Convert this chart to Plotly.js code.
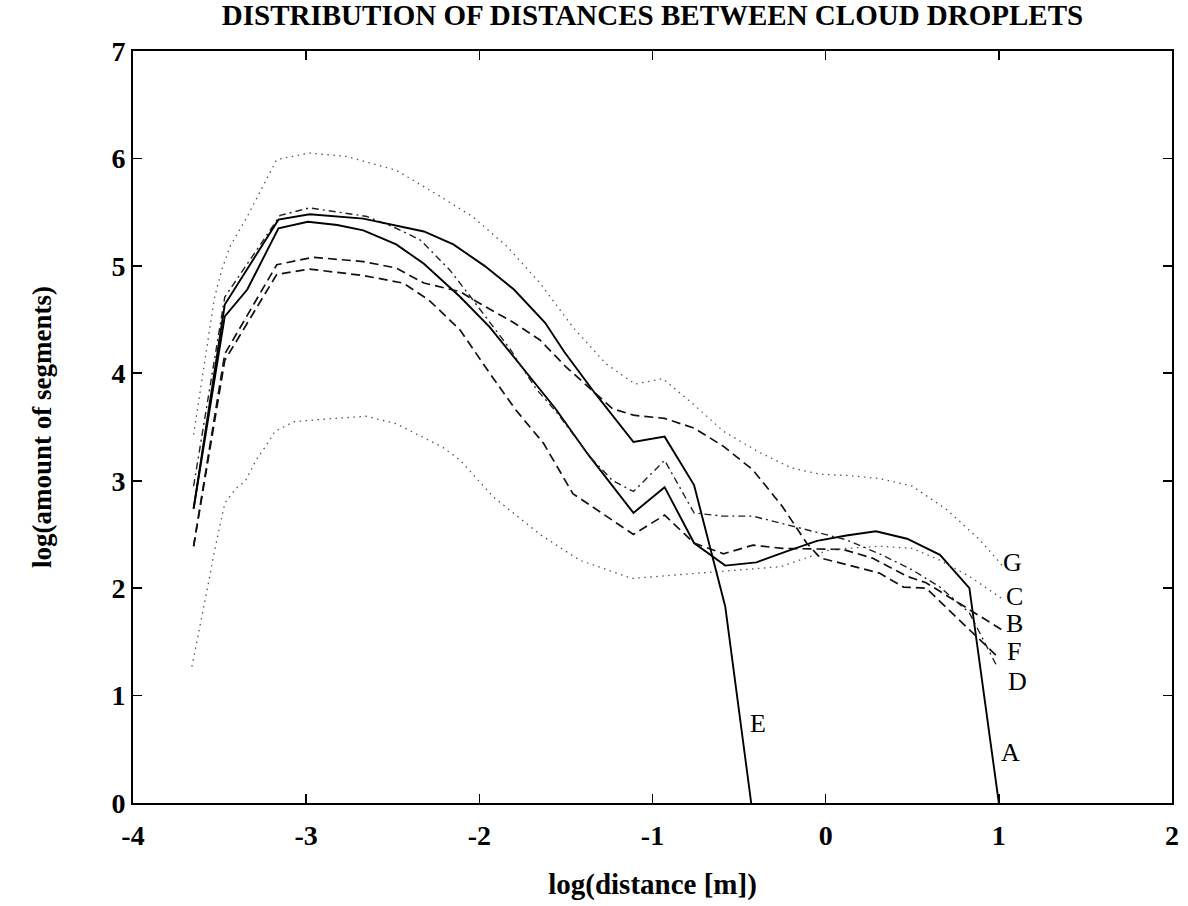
<!DOCTYPE html>
<html>
<head>
<meta charset="utf-8">
<script src="https://cdn.plot.ly/plotly-3.0.1.min.js"></script>
<style>html,body{margin:0;padding:0;background:#fff;}#chart{width:1188px;height:906px;}</style>
</head>
<body>
<div id="chart"></div>
<script>
// Series A (solid)
const xA = [-3.65, -3.47, -3.34, -3.16, -2.99, -2.82, -2.67, -2.48, -2.32, -2.11, -1.94, -1.77, -1.56, -1.37, -1.11, -0.93, -0.76, -0.58, -0.40, -0.23, -0.05, 0.12, 0.29, 0.47, 0.66, 0.83, 0.98, 1.00];
const yA = [2.74, 4.53, 4.78, 5.35, 5.41, 5.38, 5.33, 5.20, 5.02, 4.71, 4.43, 4.09, 3.67, 3.24, 2.70, 2.94, 2.42, 2.21, 2.24, 2.34, 2.44, 2.49, 2.53, 2.46, 2.31, 2.00, 0.25, 0.00];
// Series B (dashed)
const xB = [-3.65, -3.47, -3.17, -2.98, -2.67, -2.44, -2.29, -2.11, -1.94, -1.79, -1.63, -1.46, -1.11, -0.93, -0.76, -0.59, -0.42, -0.25, 0.10, 0.27, 0.47, 0.58, 1.02];
const yB = [2.39, 4.12, 4.92, 4.97, 4.91, 4.84, 4.68, 4.40, 4.00, 3.66, 3.35, 2.88, 2.50, 2.68, 2.42, 2.32, 2.40, 2.37, 2.36, 2.28, 2.11, 2.05, 1.61];
// Series C (dotted, lower)
const xC = [-3.66, -3.61, -3.57, -3.53, -3.47, -3.41, -3.35, -3.29, -3.23, -3.18, -3.07, -2.92, -2.65, -2.48, -2.21, -2.11, -1.92, -1.65, -1.42, -1.12, -0.65, -0.26, 0.03, 0.31, 0.50, 0.66, 0.83, 1.02];
const yC = [1.27, 1.66, 2.00, 2.34, 2.79, 2.92, 3.00, 3.19, 3.33, 3.46, 3.55, 3.57, 3.60, 3.53, 3.31, 3.19, 2.85, 2.50, 2.26, 2.09, 2.15, 2.20, 2.36, 2.39, 2.37, 2.26, 2.11, 1.90];
// Series D (dash-dot)
const xD = [-3.65, -3.47, -3.15, -2.98, -2.65, -2.48, -2.34, -2.17, -2.05, -1.82, -1.67, -1.55, -1.36, -1.23, -1.11, -0.93, -0.76, -0.59, -0.42, -0.25, -0.07, 0.12, 0.31, 0.50, 0.66, 0.83, 0.99];
const yD = [2.95, 4.71, 5.47, 5.54, 5.46, 5.35, 5.24, 4.96, 4.71, 4.22, 3.85, 3.63, 3.22, 3.00, 2.90, 3.19, 2.70, 2.67, 2.67, 2.60, 2.53, 2.45, 2.32, 2.17, 2.01, 1.77, 1.27];
// Series E (solid)
const xE = [-3.65, -3.47, -3.16, -2.98, -2.67, -2.32, -2.15, -1.97, -1.80, -1.62, -1.51, -1.33, -1.11, -0.93, -0.76, -0.58, -0.43];
const yE = [2.74, 4.64, 5.43, 5.48, 5.44, 5.32, 5.20, 5.00, 4.78, 4.47, 4.20, 3.81, 3.36, 3.41, 2.96, 1.83, 0.00];
// Series F (dashed)
const xF = [-3.65, -3.47, -3.17, -2.96, -2.67, -2.48, -2.32, -2.11, -2.02, -1.81, -1.65, -1.50, -1.32, -1.23, -1.11, -0.93, -0.76, -0.59, -0.42, -0.25, -0.11, -0.03, 0.12, 0.31, 0.45, 0.58, 1.00];
const yF = [2.39, 4.18, 5.01, 5.08, 5.04, 4.98, 4.84, 4.76, 4.67, 4.48, 4.31, 4.06, 3.80, 3.67, 3.61, 3.58, 3.49, 3.32, 3.10, 2.76, 2.42, 2.28, 2.22, 2.14, 2.01, 2.00, 1.35];
// Series G (dotted, upper)
const xG = [-3.65, -3.53, -3.49, -3.44, -3.34, -3.25, -3.17, -2.98, -2.77, -2.48, -2.24, -2.04, -1.84, -1.65, -1.46, -1.27, -1.10, -0.94, -0.77, -0.59, -0.39, -0.20, -0.03, 0.12, 0.31, 0.50, 0.70, 0.89, 1.02];
const yG = [3.43, 4.70, 4.95, 5.18, 5.46, 5.74, 5.99, 6.05, 6.02, 5.89, 5.66, 5.46, 5.18, 4.84, 4.43, 4.09, 3.90, 3.95, 3.72, 3.46, 3.27, 3.12, 3.06, 3.05, 3.02, 2.95, 2.73, 2.45, 2.21];

// Curve labels
const labelText = ["G", "C", "B", "F", "D", "A", "E"];
const labelX = [1.08, 1.09, 1.09, 1.09, 1.11, 1.07, -0.39];
const labelY = [2.24, 1.92, 1.67, 1.41, 1.13, 0.47, 0.74];

const xTicks = [-4, -3, -2, -1, 0, 1, 2];
const yTicks = [0, 1, 2, 3, 4, 5, 6, 7];

const SERIF = '"Liberation Serif", "Times New Roman", serif';
const solid = {color: '#000', width: 1.9, dash: 'solid'};
const dashed = {color: '#111', width: 1.7, dash: '9px,5px'};
const dotted = {color: '#555', width: 1.3, dash: '1.5px,4.5px'};
const dashdot = {color: '#222', width: 1.4, dash: '7px,4px,2px,4px'};

const traces = [
  {x: xA, y: yA, name: 'A', line: solid},
  {x: xB, y: yB, name: 'B', line: dashed},
  {x: xC, y: yC, name: 'C', line: dotted},
  {x: xD, y: yD, name: 'D', line: dashdot},
  {x: xE, y: yE, name: 'E', line: solid},
  {x: xF, y: yF, name: 'F', line: dashed},
  {x: xG, y: yG, name: 'G', line: dotted}
].map(t => Object.assign({type: 'scatter', mode: 'lines', showlegend: false, hoverinfo: 'skip'}, t));

const annotations = labelText.map((t, i) => ({
  x: labelX[i], y: labelY[i], xref: 'x', yref: 'y', text: t, showarrow: false,
  borderpad: 0, font: {family: SERIF, size: 26, color: '#000'}
}));

const axisCommon = {
  showgrid: false, zeroline: false, showline: true, linecolor: '#000', linewidth: 2,
  mirror: 'ticks', ticks: 'inside', ticklen: 9, tickwidth: 1.6, tickcolor: '#000',
  tickfont: {family: SERIF, size: 28, color: '#000', weight: 'bold'}
};

const layout = {
  width: 1188, height: 906,
  margin: {l: 133, r: 16, t: 51, b: 103},
  paper_bgcolor: '#fff', plot_bgcolor: '#fff',
  title: {text: 'DISTRIBUTION OF DISTANCES BETWEEN CLOUD DROPLETS',
          font: {family: SERIF, size: 29, color: '#000', weight: 'bold'},
          x: 0.5, xanchor: 'center', xref: 'paper', y: 0.984, yanchor: 'middle', yref: 'container'},
  xaxis: Object.assign({}, axisCommon, {range: [-4, 2], tickvals: xTicks, ticktext: xTicks.map(String),
    ticklabelstandoff: 6,
    title: {text: 'log(distance [m])', font: {family: SERIF, size: 29, color: '#000', weight: 'bold'}, standoff: 24}}),
  yaxis: Object.assign({}, axisCommon, {range: [0, 7], tickvals: yTicks, ticktext: yTicks.map(String),
    title: {text: 'log(amount of segments)', font: {family: SERIF, size: 27, color: '#000', weight: 'bold'}, standoff: 52}}),
  annotations: annotations
};

Plotly.newPlot('chart', traces, layout, {displayModeBar: false, staticPlot: true});
</script>
</body>
</html>
